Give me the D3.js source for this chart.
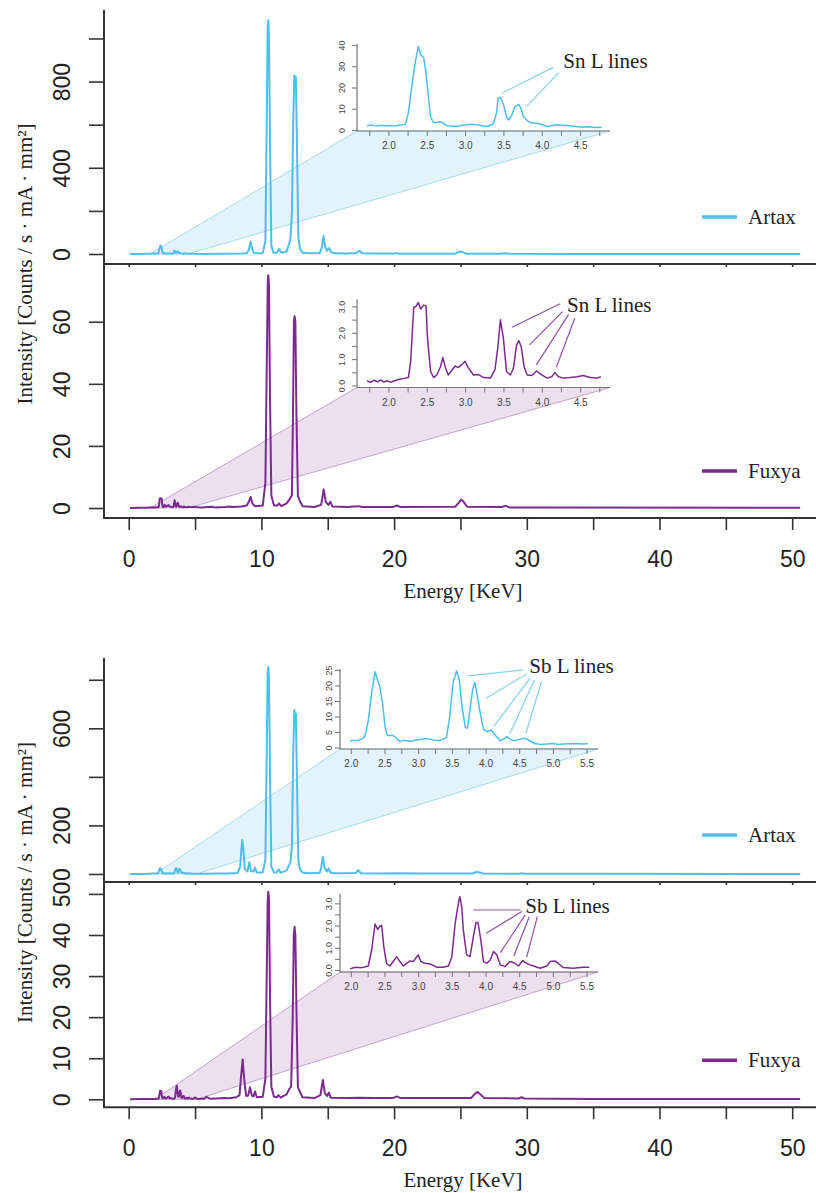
<!DOCTYPE html>
<html>
<head>
<meta charset="utf-8">
<script src="https://cdnjs.cloudflare.com/ajax/libs/d3/7.8.5/d3.min.js"></script>
<style>
  body { margin: 0; background: #fff; }
  .ax path, .ax line { stroke: #333; stroke-width: 1.6; }
  .ax text { font-family: 'Liberation Sans', Arial, sans-serif; font-size: 23px; fill: #222; }
  .iax line { stroke: #777; stroke-width: 1; }
  .iax text { font-family: 'Liberation Sans', Arial, sans-serif; fill: #444; }
  .serif { font-family: 'Liberation Serif', 'Times New Roman', serif; fill: #222; }
</style>
</head>
<body>
<div id="root"></div>
<script>
//energies (keV) and intensities, [keV, value]
//low energy parts, these are also drawn in the insets
var snArtaxInset = [[1.72,2.0],[1.78,2.3],[1.84,1.8],[1.9,2.2],[1.96,1.9],[2.02,2.1],[2.08,1.8],[2.14,2.3],[2.19,2.4],[2.22,2.6],[2.26,8],[2.3,19],[2.33,27],[2.36,34],[2.39,39.5],[2.42,35.5],[2.46,34],[2.49,27],[2.52,16],[2.55,6],[2.59,3.5],[2.63,3.5],[2.67,3.9],[2.7,3.6],[2.76,2.0],[2.82,1.8],[2.89,1.6],[2.96,2.2],[3.02,2.4],[3.07,2.7],[3.15,2.5],[3.22,2.0],[3.28,1.6],[3.33,2.2],[3.37,3.0],[3.41,8],[3.43,15],[3.46,15.3],[3.5,12],[3.54,6.3],[3.57,4.7],[3.61,7],[3.65,11],[3.7,12],[3.73,10],[3.76,6.3],[3.81,4.4],[3.85,3.5],[3.92,3.2],[3.98,2.8],[4.07,1.6],[4.13,2.0],[4.2,2.4],[4.28,2.2],[4.37,2.0],[4.45,1.6],[4.54,1.3],[4.62,1.5],[4.7,1.2],[4.78,1.3]];
var snFuxyaInset = [[1.72,0.18],[1.77,0.12],[1.81,0.2],[1.86,0.14],[1.9,0.21],[1.94,0.13],[1.98,0.18],[2.03,0.12],[2.07,0.17],[2.12,0.22],[2.16,0.25],[2.22,0.28],[2.26,0.3],[2.29,0.9],[2.33,2.96],[2.36,3.0],[2.39,3.15],[2.42,2.9],[2.46,3.05],[2.49,3.02],[2.51,1.78],[2.55,0.53],[2.59,0.3],[2.63,0.4],[2.68,0.71],[2.71,1.06],[2.74,0.71],[2.78,0.4],[2.83,0.59],[2.87,0.74],[2.91,0.68],[2.96,0.8],[3.0,0.92],[3.04,0.68],[3.11,0.4],[3.17,0.42],[3.24,0.3],[3.33,0.28],[3.39,0.6],[3.43,1.52],[3.46,2.49],[3.5,1.78],[3.54,0.53],[3.59,0.4],[3.63,0.65],[3.67,1.52],[3.7,1.7],[3.73,1.5],[3.77,0.71],[3.81,0.4],[3.87,0.38],[3.93,0.55],[4.0,0.4],[4.07,0.28],[4.13,0.33],[4.17,0.49],[4.22,0.33],[4.28,0.28],[4.37,0.3],[4.46,0.33],[4.54,0.38],[4.63,0.3],[4.72,0.28],[4.77,0.33]];
var sbArtaxInset = [[1.99,2.0],[2.04,2.3],[2.09,2.2],[2.16,2.7],[2.21,3.5],[2.26,8.6],[2.31,17.7],[2.36,24.4],[2.4,21.5],[2.43,19.7],[2.47,14.5],[2.51,6.5],[2.54,4.0],[2.58,3.8],[2.61,4.0],[2.66,3.4],[2.73,1.9],[2.78,2.3],[2.83,2.2],[2.9,2.0],[2.98,2.5],[3.05,2.6],[3.1,2.9],[3.18,2.7],[3.25,2.3],[3.32,2.2],[3.42,3.2],[3.47,10.2],[3.52,21],[3.57,24.7],[3.61,22],[3.65,13.4],[3.7,6.5],[3.73,6.2],[3.77,12.4],[3.81,18.8],[3.84,21],[3.87,17.7],[3.92,11.3],[3.97,5.9],[4.02,5.1],[4.09,5.6],[4.14,4.0],[4.22,2.2],[4.27,2.7],[4.32,3.5],[4.36,2.7],[4.44,2.2],[4.51,2.7],[4.58,3.0],[4.63,2.5],[4.73,1.3],[4.82,1.0],[4.9,1.1],[5.0,1.3],[5.08,1.0],[5.15,1.1],[5.25,1.2],[5.35,1.3],[5.45,1.1],[5.52,1.3]];
var sbFuxyaInset = [[1.99,0.05],[2.04,0.1],[2.09,0.12],[2.14,0.1],[2.19,0.12],[2.26,0.18],[2.31,0.9],[2.36,2.07],[2.4,1.82],[2.43,1.97],[2.46,2.0],[2.49,1.06],[2.53,0.3],[2.58,0.18],[2.63,0.38],[2.68,0.6],[2.73,0.38],[2.78,0.18],[2.83,0.3],[2.88,0.41],[2.93,0.38],[2.98,0.6],[3.0,0.68],[3.04,0.38],[3.1,0.3],[3.18,0.27],[3.28,0.12],[3.37,0.12],[3.45,0.18],[3.5,0.6],[3.55,2.1],[3.6,3.06],[3.62,3.3],[3.65,2.76],[3.67,1.82],[3.72,0.68],[3.77,0.6],[3.82,1.5],[3.86,2.15],[3.89,2.12],[3.93,1.36],[3.97,0.38],[4.02,0.3],[4.07,0.45],[4.12,0.83],[4.17,0.68],[4.22,0.23],[4.29,0.15],[4.36,0.38],[4.42,0.33],[4.49,0.18],[4.55,0.42],[4.61,0.3],[4.68,0.21],[4.81,0.08],[4.91,0.18],[4.96,0.38],[5.03,0.41],[5.08,0.3],[5.15,0.11],[5.3,0.08],[5.45,0.12],[5.54,0.12]];

//rest of each spectrum (outside the inset window)
var snArtaxRest = [[0.1,0],[0.8,0.3],[1.3,0.8],[1.6,1.5],[4.9,1],[5.5,0.5],[7,1],[8.5,2],[8.9,4],[9.05,20],[9.19,57],[9.32,20],[9.45,4],[10.1,4],[10.3,60],[10.4,600],[10.47,1050],[10.52,1084],[10.57,1000],[10.65,500],[10.75,40],[10.9,6],[11.15,6],[11.33,23],[11.5,6],[11.9,12],[12.1,50],[12.2,75],[12.3,200],[12.4,620],[12.48,829],[12.54,800],[12.6,820],[12.68,500],[12.78,80],[12.9,25],[13.1,6],[13.6,3],[14.4,5],[14.55,30],[14.68,83],[14.8,35],[14.95,15],[15.1,28],[15.25,8],[15.5,3],[16.5,2],[17.15,5],[17.37,15],[17.6,4],[18.5,2],[20,2],[20.2,4],[20.4,1.5],[22,1],[24.6,1.5],[24.85,9],[25.05,12],[25.3,5],[25.5,1.5],[28,1],[28.4,3],[28.7,1],[35,0.5],[50.6,0.3]];
var snFuxyaRest = [[0.1,0],[0.9,0.05],[1.4,0.1],[4.9,0.3],[5.5,0.2],[6.3,0.4],[6.5,0.2],[7.3,0.3],[7.6,0.5],[7.8,0.3],[8.5,0.5],[8.9,0.8],[9.05,2],[9.19,3.6],[9.32,1.5],[9.5,0.6],[10.1,0.8],[10.3,8],[10.4,45],[10.48,73],[10.52,75],[10.57,72],[10.65,35],[10.75,4],[10.95,0.8],[11.2,0.8],[11.33,1.5],[11.5,0.6],[11.9,1.5],[12.15,3],[12.3,4.2],[12.38,30],[12.45,60],[12.5,61.8],[12.56,60],[12.64,30],[12.75,4],[12.9,2.2],[13.1,0.6],[14,0.3],[14.5,1],[14.7,6],[14.85,2],[15.05,1],[15.2,2],[15.35,0.5],[16.5,0.3],[17.3,0.6],[17.6,0.3],[19.9,0.3],[20.2,0.8],[20.5,0.3],[24.6,0.4],[24.9,1.8],[25.05,2.7],[25.2,2.2],[25.5,0.4],[28.1,0.3],[28.4,0.7],[28.7,0.2],[32,0.2],[50.6,0.1]];
var sbArtaxRest = [[0.1,0],[0.9,0.3],[1.5,1],[1.9,1.8],[5.7,1],[6.5,1.5],[7.5,2],[8.2,4],[8.4,30],[8.5,110],[8.56,140],[8.63,110],[8.75,20],[8.95,10],[9.09,48],[9.22,12],[9.4,10],[9.52,27],[9.65,6],[10.1,6],[10.3,60],[10.4,500],[10.47,830],[10.52,853],[10.57,800],[10.65,400],[10.75,30],[10.95,6],[11.15,6],[11.3,19],[11.45,5],[11.9,15],[12.2,50],[12.3,120],[12.4,500],[12.48,675],[12.54,640],[12.6,660],[12.68,380],[12.78,60],[12.9,20],[13.1,6],[13.6,3],[14.4,5],[14.5,25],[14.63,71],[14.76,25],[14.95,10],[15.06,23],[15.2,6],[15.5,3],[17.1,4],[17.3,16],[17.5,3],[19,2],[20.2,3],[22,1.5],[25.9,2],[26.2,8],[26.45,6],[26.7,2],[29.4,1],[29.6,3],[29.8,1],[35,0.5],[50.6,0.3]];
var sbFuxyaRest = [[0.1,0],[1.0,0.05],[1.8,0.05],[5.7,0.15],[5.87,0.6],[6.1,0.15],[6.6,0.2],[7.2,0.3],[7.6,0.25],[8.1,0.5],[8.35,1],[8.48,6],[8.59,9.7],[8.7,5],[8.85,0.8],[9.0,0.9],[9.14,2.9],[9.28,0.9],[9.4,0.7],[9.52,1.9],[9.65,0.5],[10.1,0.6],[10.3,5],[10.4,30],[10.47,48],[10.52,50.5],[10.57,49],[10.65,25],[10.75,3],[10.95,0.6],[11.15,0.5],[11.28,1],[11.45,0.4],[11.9,1.2],[12.1,2.5],[12.24,3.1],[12.36,20],[12.44,40],[12.5,42],[12.56,40],[12.64,22],[12.75,3],[12.9,1.8],[13.1,0.5],[14,0.3],[14.45,1],[14.63,4.7],[14.78,1.5],[14.95,0.8],[15.08,1.6],[15.22,0.4],[16.5,0.3],[17.3,0.4],[18.5,0.3],[19.9,0.3],[20.2,0.7],[20.5,0.3],[25.8,0.3],[26.1,1.4],[26.3,1.8],[26.5,1.2],[26.8,0.3],[29.4,0.2],[29.6,0.5],[29.8,0.2],[35,0.1],[50.6,0.1]];

//tick values
var energyTicks = [0,5,10,15,20,25,30,35,40,45,50];
var energyLabels = [0,10,20,30,40,50];
var snArtaxTicks = [0,200,400,600,800,1000], snArtaxLabels = [0,400,800];
var snFuxyaTicks = [0,20,40,60], snFuxyaLabels = [0,20,40,60];
var sbArtaxTicks = [0,200,400,600,800], sbArtaxLabels = [0,200,600];
var sbFuxyaTicks = [0,10,20,30,40,50], sbFuxyaLabels = [0,10,20,30,40,50];
var snInsetX = [1.75,2,2.25,2.5,2.75,3,3.25,3.5,3.75,4,4.25,4.5,4.75], snInsetXLabels = [2,2.5,3,3.5,4,4.5];
var sbInsetX = [2,2.25,2.5,2.75,3,3.25,3.5,3.75,4,4.25,4.5,4.75,5,5.25,5.5], sbInsetXLabels = [2,2.5,3,3.5,4,4.5,5,5.5];
var snArtaxInsetY = [0,10,20,30,40], sbArtaxInsetY = [0,5,10,15,20,25];
var fuxyaInsetY = [0,0.5,1,1.5,2,2.5,3], fuxyaInsetYLabels = [0,1,2,3];

//"L lines" callouts: label at [keV, value], each line [fromKeV, fromVal, toKeV, toVal] in inset units
var snArtaxNote = [4.28, 29.2], snArtaxNoteLines = [[4.15,29.5,3.48,17.3],[4.22,27.0,3.80,11.0]];
var snFuxyaNote = [4.33, 2.8], snFuxyaNoteLines = [[4.24,3.10,3.61,2.21],[4.27,2.80,3.84,1.54],[4.35,2.70,3.93,0.78],[4.43,2.55,4.19,0.69]];
var sbArtaxNote = [4.65, 23.9], sbArtaxNoteLines = [[4.56,25.0,3.74,23.1],[4.61,23.7,4.01,15.9],[4.66,22.3,4.12,6.7],[4.73,21.8,4.36,4.4],[4.83,21.2,4.60,4.6]];
var sbFuxyaNote = [4.59, 2.55], sbFuxyaNoteLines = [[4.52,2.70,3.82,2.70],[4.54,2.63,4.01,1.65],[4.59,2.48,4.22,0.78],[4.65,2.40,4.42,0.63],[4.77,2.40,4.61,0.57]];

var colArtax = '#4dbfe9', colFuxya = '#7b2b8d';
var fillArtax = '#e2f3fa', fillFuxya = '#ece0ef';
var edgeArtax = '#a6dbef', edgeFuxya = '#c4a2cd';

var svg = d3.select('#root').append('svg')
  .attr('width', 816)
  .attr('height', 1193);

var wedgeLayer = svg.append('g'), axisLayer = svg.append('g'), lineLayer = svg.append('g'), insetLayer = svg.append('g');

var x = d3.scaleLinear().domain([0, 50]).range([128.7, 792.2]);
var line = function(sx, sy) {
  return d3.line().x(function(d) { return sx(d[0]); }).y(function(d) { return sy(d[1]); });
};
var merge = function(a, b) { return d3.sort(a.concat(b), function(d) { return d[0]; }); };

//one spectrum panel with its left axis, legend and inset
function drawPanel(p) {
  var y = d3.scaleLinear().domain(p.yDomain).range(p.yRange);
  var bottom = p.yRange[0], top = p.yRange[1];

  //left axis: ticks + rotated labels
  var yAxis = axisLayer.append('g').attr('class', 'ax')
    .attr('transform', 'translate(104,0)')
    .call(d3.axisLeft(y).tickValues(p.yTicks).tickSize(15)
      .tickFormat(function(d) { return p.yLabels.indexOf(d) > -1 ? d : ''; }));
  yAxis.select('.domain').remove();
  yAxis.selectAll('text')
    .attr('x', 0).attr('y', -34).attr('dy', 0)
    .attr('text-anchor', 'middle')
    .attr('transform', 'rotate(-90)');

  //L shaped frame
  axisLayer.append('path').attr('class', 'ax')
    .attr('d', 'M104,' + top + 'V' + bottom + 'H816')
    .style('fill', 'none').style('stroke', '#333').style('stroke-width', 2);

  //energy axis: full one under the lower panel, stubs under the upper
  var xAxis = axisLayer.append('g').attr('class', 'ax')
    .attr('transform', 'translate(0,' + bottom + ')')
    .call(d3.axisBottom(x).tickValues(energyTicks).tickSize(p.full ? 12 : 3)
      .tickFormat(function(d) { return p.full && energyLabels.indexOf(d) > -1 ? d : ''; }));
  xAxis.select('.domain').remove();
  xAxis.selectAll('text').attr('y', 49).attr('dy', 0);

  lineLayer.append('path')
    .datum(merge(p.inset, p.rest))
    .attr('d', line(x, y))
    .style('fill', 'none')
    .style('stroke', p.color)
    .style('stroke-width', 2)
    .style('stroke-linejoin', 'round');

  //legend
  var ly = bottom - 47;
  lineLayer.append('line')
    .attr('x1', 702).attr('x2', 737).attr('y1', ly).attr('y2', ly)
    .style('stroke', p.color).style('stroke-width', 3.5);
  lineLayer.append('text').attr('class', 'serif')
    .attr('x', 748).attr('y', ly + 7)
    .style('font-size', '21px')
    .text(p.name);

  drawInset(p, y);
}

function drawInset(p, y) {
  var ix = d3.scaleLinear().domain(p.ixDomain).range(p.ixRange);
  var iy = d3.scaleLinear().domain(p.iyDomain).range(p.iyRange);
  var left = p.ixRange[0], right = p.ixRange[1], bottom = p.iyRange[0], top = p.iyRange[1];

  //zoom wedge from the main spectrum to the inset corners
  wedgeLayer.append('path')
    .attr('d', 'M' + x(p.zoomFrom[0]) + ',' + y(0) + 'L' + left + ',' + bottom +
               'L' + right + ',' + bottom + 'L' + x(p.zoomFrom[1]) + ',' + y(0) + 'Z')
    .style('fill', p.wedgeFill)
    .style('stroke', p.wedgeEdge)
    .style('stroke-width', 1);

  var g = insetLayer.append('g');
  g.append('path')
    .attr('d', 'M' + left + ',' + top + 'V' + bottom + 'H' + right)
    .style('fill', 'none').style('stroke', '#777').style('stroke-width', 1.2);

  var ya = g.append('g').attr('class', 'iax')
    .attr('transform', 'translate(' + left + ',0)')
    .call(d3.axisLeft(iy).tickValues(p.iyTicks).tickSize(5)
      .tickFormat(function(d) { return p.iyLabels.indexOf(d) > -1 ? p.iyFormat(d) : ''; }));
  ya.select('.domain').remove();
  ya.selectAll('text')
    .attr('x', 0).attr('y', p.iyLabelOff).attr('dy', 0)
    .attr('text-anchor', 'middle')
    .attr('transform', 'rotate(-90)')
    .style('font-size', '9px');

  var xa = g.append('g').attr('class', 'iax')
    .attr('transform', 'translate(0,' + bottom + ')')
    .call(d3.axisBottom(ix).tickValues(p.ixTicks).tickSize(5)
      .tickFormat(function(d) { return p.ixLabels.indexOf(d) > -1 ? d3.format('.1f')(d) : ''; }));
  xa.select('.domain').remove();
  xa.selectAll('text').attr('y', 18).attr('dy', 0).style('font-size', '10px');

  g.append('path')
    .datum(p.inset)
    .attr('d', line(ix, iy))
    .style('fill', 'none')
    .style('stroke', p.color)
    .style('stroke-width', 1.5)
    .style('stroke-linejoin', 'round');

  //callout
  g.selectAll('line.note')
    .data(p.noteLines).enter()
    .append('line')
    .attr('class', 'note')
    .attr('x1', function(d) { return ix(d[0]); })
    .attr('y1', function(d) { return iy(d[1]); })
    .attr('x2', function(d) { return ix(d[2]); })
    .attr('y2', function(d) { return iy(d[3]); })
    .style('stroke', p.noteColor)
    .style('stroke-width', 1.2);
  g.append('text').attr('class', 'serif')
    .attr('x', ix(p.note[0])).attr('y', iy(p.note[1]))
    .style('font-size', '21px')
    .text(p.noteText);
}

var f1 = d3.format('d'), f2 = d3.format('.1f');
var snInsetCommon = { ixDomain: [1.59, 4.89], ixRange: [357, 610], ixTicks: snInsetX, ixLabels: snInsetXLabels, zoomFrom: [1.6, 4.45], iyLabelOff: -12.4 };
var sbInsetCommon = { ixDomain: [1.84, 5.67], ixRange: [340, 598], ixTicks: sbInsetX, ixLabels: sbInsetXLabels, zoomFrom: [2.0, 5.1], iyLabelOff: -8.5 };

drawPanel(Object.assign({}, snInsetCommon, {
  name: 'Artax', color: colArtax, inset: snArtaxInset, rest: snArtaxRest,
  yDomain: [-46.4, 1132], yRange: [264, 10], yTicks: snArtaxTicks, yLabels: snArtaxLabels, full: false,
  iyDomain: [-0.5, 40.5], iyRange: [131, 44], iyTicks: snArtaxInsetY, iyLabels: snArtaxInsetY, iyFormat: f1,
  wedgeFill: fillArtax, wedgeEdge: edgeArtax, noteColor: '#86d0ee',
  note: snArtaxNote, noteLines: snArtaxNoteLines, noteText: 'Sn L lines'
}));
drawPanel(Object.assign({}, snInsetCommon, {
  name: 'Fuxya', color: colFuxya, inset: snFuxyaInset, rest: snFuxyaRest,
  yDomain: [-3.22, 78.6], yRange: [518, 264], yTicks: snFuxyaTicks, yLabels: snFuxyaLabels, full: true,
  iyDomain: [-0.076, 3.27], iyRange: [387.5, 299.3], iyTicks: fuxyaInsetY, iyLabels: fuxyaInsetYLabels, iyFormat: f2,
  wedgeFill: fillFuxya, wedgeEdge: edgeFuxya, noteColor: '#8f52a0',
  note: snFuxyaNote, noteLines: snFuxyaNoteLines, noteText: 'Sn L lines'
}));
drawPanel(Object.assign({}, sbInsetCommon, {
  name: 'Artax', color: colArtax, inset: sbArtaxInset, rest: sbArtaxRest,
  yDomain: [-33, 889.6], yRange: [882, 658], yTicks: sbArtaxTicks, yLabels: sbArtaxLabels, full: false,
  iyDomain: [-0.48, 25.3], iyRange: [749, 669], iyTicks: sbArtaxInsetY, iyLabels: sbArtaxInsetY, iyFormat: f1,
  wedgeFill: fillArtax, wedgeEdge: edgeArtax, noteColor: '#86d0ee',
  note: sbArtaxNote, noteLines: sbArtaxNoteLines, noteText: 'Sb L lines'
}));
drawPanel(Object.assign({}, sbInsetCommon, {
  name: 'Fuxya', color: colFuxya, inset: sbFuxyaInset, rest: sbFuxyaRest,
  yDomain: [-1.95, 52.9], yRange: [1107.3, 882], yTicks: sbFuxyaTicks, yLabels: sbFuxyaLabels, full: true,
  iyDomain: [-0.09, 3.42], iyRange: [972, 894], iyTicks: fuxyaInsetY, iyLabels: fuxyaInsetYLabels, iyFormat: f2,
  wedgeFill: fillFuxya, wedgeEdge: edgeFuxya, noteColor: '#8f52a0',
  note: sbFuxyaNote, noteLines: sbFuxyaNoteLines, noteText: 'Sb L lines'
}));

//shared axis titles for the two figures
[[264, 598], [882.5, 1187]].forEach(function(t) {
  svg.append('text').attr('class', 'serif')
    .attr('transform', 'translate(32,' + t[0] + ') rotate(-90)')
    .attr('text-anchor', 'middle')
    .style('font-size', '21px')
    .text('Intensity [Counts / s \u00b7 mA \u00b7 mm\u00b2]');
  svg.append('text').attr('class', 'serif')
    .attr('x', 463).attr('y', t[1])
    .attr('text-anchor', 'middle')
    .style('font-size', '21px')
    .text('Energy [KeV]');
});
</script>
</body>
</html>
